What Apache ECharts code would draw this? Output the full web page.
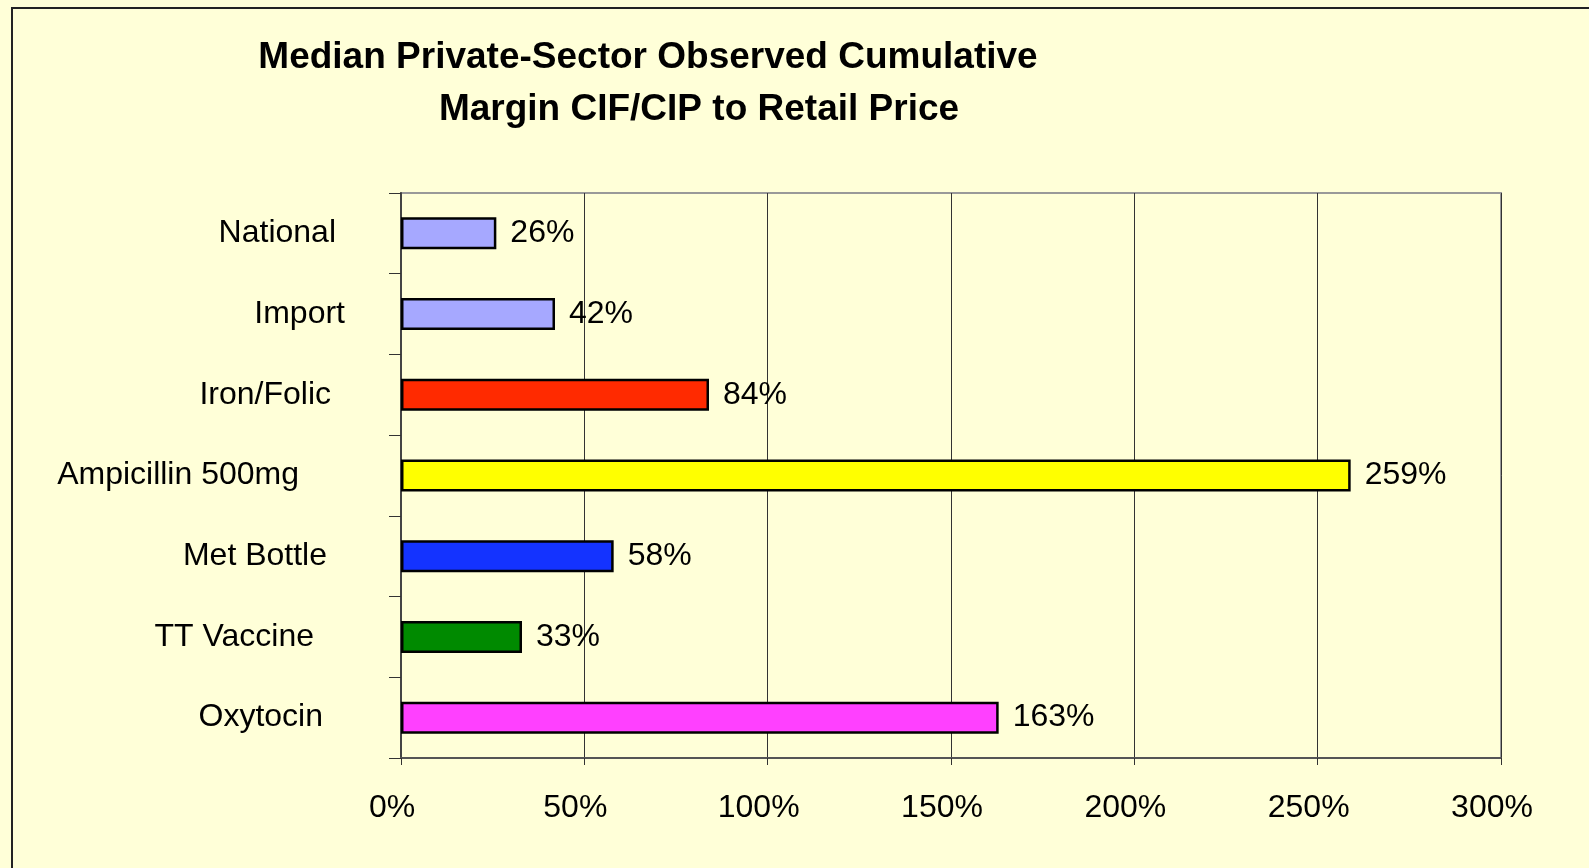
<!DOCTYPE html>
<html>
<head>
<meta charset="utf-8">
<script src="https://cdn.jsdelivr.net/npm/echarts@6/dist/echarts.min.js"></script>
<style>
html,body{margin:0;padding:0;background:#FFFFD8;}
#c{width:1589px;height:868px;}
</style>
</head>
<body>
<div id="c"></div>
<script>
const titleLines = ['Median Private-Sector Observed Cumulative', 'Margin CIF/CIP to Retail Price'];
const categories = ['National', 'Import', 'Iron/Folic', 'Ampicillin 500mg', 'Met Bottle', 'TT Vaccine', 'Oxytocin'];
const values = [26, 42, 84, 259, 58, 33, 163];
const barColors = ['#A6A8FF', '#A6A8FF', '#FF2A00', '#FFFF00', '#1433FF', '#008A00', '#FF40FF'];
const xTicks = [0, 50, 100, 150, 200, 250, 300];

// per-label right padding (styling, to mimic original label placement)
const labelPad = [9, 0, 14, 46, 18, 31, 22];

const FONT = 'Liberation Sans, Arial, sans-serif';
const rich = {};
categories.forEach((c, i) => {
  rich['c' + i] = { fontSize: 32, color: '#000', fontFamily: FONT, padding: [0, labelPad[i], 0, 0] };
});

const chart = echarts.init(document.getElementById('c'), null, { renderer: 'canvas' });
chart.setOption({
  backgroundColor: '#FFFFD8',
  animation: false,
  textStyle: { fontFamily: FONT },
  title: [
    { text: titleLines[0], left: 643, top: 34, textAlign: 'center',
      textStyle: { fontSize: 37, fontWeight: 'bold', color: '#000', fontFamily: FONT } },
    { text: titleLines[1], left: 694, top: 86, textAlign: 'center',
      textStyle: { fontSize: 37, fontWeight: 'bold', color: '#000', fontFamily: FONT } }
  ],
  graphic: [
    { type: 'rect', left: 11, top: 7, shape: { width: 1600, height: 900 },
      style: { fill: 'transparent', stroke: '#222', lineWidth: 2 }, silent: true, z: -1 }
  ],
  grid: { left: 401, top: 193, width: 1100, height: 565, show: true, borderColor: '#999', borderWidth: 2, backgroundColor: 'transparent' },
  xAxis: {
    type: 'value', min: 0, max: 300, interval: 50,
    axisLine: { show: true, lineStyle: { color: '#555', width: 2 } },
    axisTick: { show: true, length: 7, lineStyle: { color: '#333', width: 1 } },
    splitLine: { show: true, lineStyle: { color: '#333', width: 1 } },
    axisLabel: {
      margin: 34, fontSize: 32, color: '#000', padding: [0, 18, 0, 0],
      formatter: v => xTicks.includes(v) ? v + '%' : ''
    }
  },
  yAxis: {
    type: 'category', inverse: true, data: categories,
    axisLine: { show: true, lineStyle: { color: '#444', width: 2 } },
    axisTick: { show: true, length: 12, alignWithLabel: false, lineStyle: { color: '#333', width: 1 } },
    splitLine: { show: false },
    axisLabel: {
      margin: 56, align: 'right',
      formatter: (v, i) => '{c' + i + '|' + v + '}',
      rich: rich
    }
  },
  series: [{
    type: 'bar',
    data: values.map((v, i) => ({ value: v, itemStyle: { color: barColors[i] } })),
    barWidth: 32,
    itemStyle: { borderColor: '#000', borderWidth: 2.5 },
    label: {
      show: true, position: 'right', distance: 14, fontSize: 32, color: '#000',
      formatter: p => p.value + '%'
    }
  }]
});
</script>
</body>
</html>
